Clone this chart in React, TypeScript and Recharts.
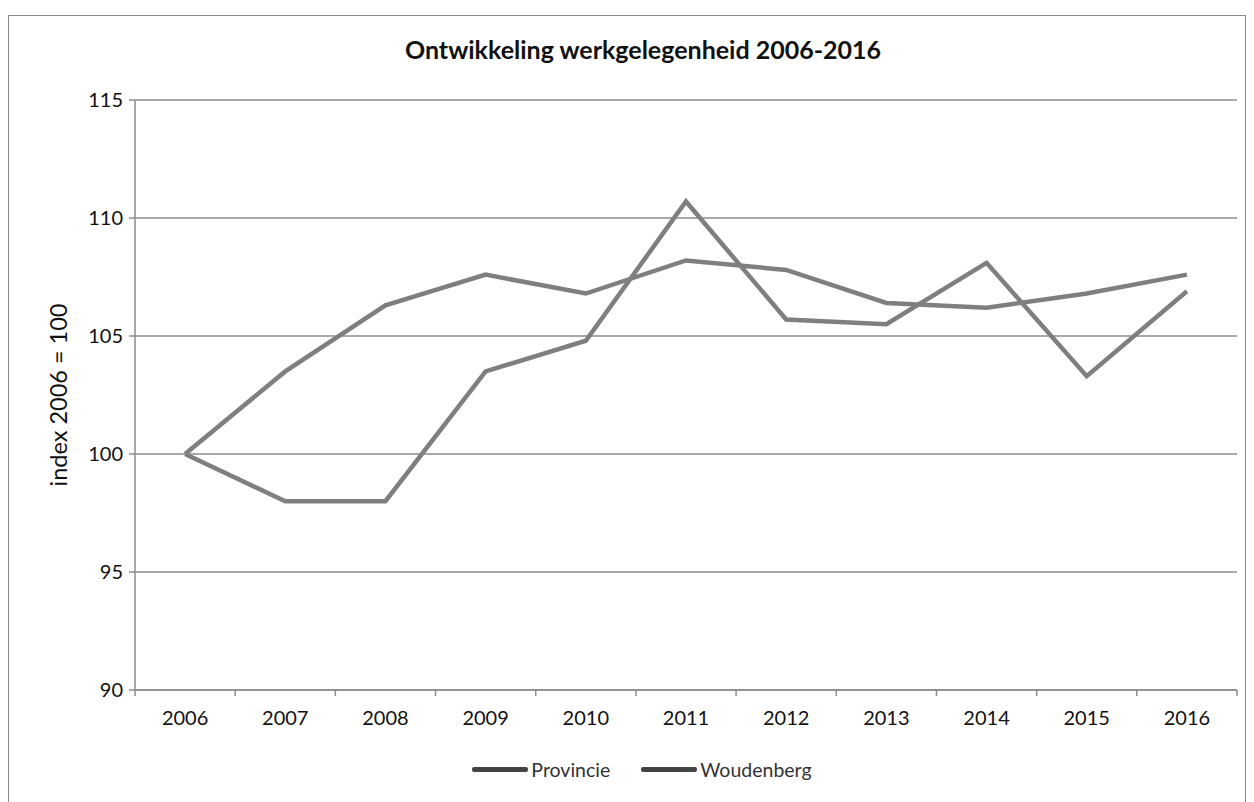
import React from "react";
import {
  LineChart,
  Line,
  XAxis,
  YAxis,
  CartesianGrid,
  Legend,
} from "recharts";

const years = ["2006", "2007", "2008", "2009", "2010", "2011", "2012", "2013", "2014", "2015", "2016"];
const provincie = [100, 103.5, 106.3, 107.6, 106.8, 108.2, 107.8, 106.4, 106.2, 106.8, 107.6];
const woudenberg = [100, 98.0, 98.0, 103.5, 104.8, 110.7, 105.7, 105.5, 108.1, 103.3, 106.9];
const yTicks = [90, 95, 100, 105, 110, 115];

const data = years.map((year, i) => ({
  year,
  provincie: provincie[i],
  woudenberg: woudenberg[i],
}));

const font = "Lato, 'Open Sans', sans-serif";
const lineColor = "#7f7f7f";
const gridColor = "#8c8c8c";
const X_TICK_SIZE = 6;
const X_TICK_MARGIN = 10;

const legendItems = [
  { name: "Provincie" },
  { name: "Woudenberg" },
];

function renderLegend() {
  return (
    <div style={{
      display: "flex",
      justifyContent: "center",
      gap: "31px",
      paddingTop: "22px",
      paddingRight: "28px",
      fontFamily: font,
      fontSize: "19.5px",
      color: "#333",
    }}>
      {legendItems.map((item) => (
        <div key={item.name} style={{ display: "flex", alignItems: "center" }}>
          <span style={{ display: "inline-block", width: "56px", height: "5px", background: "#444", borderRadius: "2px", marginRight: "3px" }} />
          {item.name}
        </div>
      ))}
    </div>
  );
}

// year label at the band centre, Excel-style tick marks on the band edges
function YearTick(props: any) {
  const { x, y, payload, index, visibleTicksCount } = props;
  const half = payload.offset || 0;
  const axisY = y - X_TICK_SIZE - X_TICK_MARGIN;
  const isLast = index === visibleTicksCount - 1;
  return (
    <g>
      <line x1={x - half} x2={x - half} y1={axisY} y2={axisY + X_TICK_SIZE} stroke={gridColor} strokeWidth={1.5} />
      {isLast && (
        <line x1={x + half} x2={x + half} y1={axisY} y2={axisY + X_TICK_SIZE} stroke={gridColor} strokeWidth={1.5} />
      )}
      <text x={x} y={y} dy={19} textAnchor="middle" fill="#111" fontSize={20} fontFamily={font}>
        {payload.value}
      </text>
    </g>
  );
}

function YLabel(props: any) {
  const { viewBox } = props;
  const x = viewBox.x - 17;
  const y = viewBox.y + viewBox.height / 2;
  return (
    <text
      x={x}
      y={y}
      transform={`rotate(-90, ${x}, ${y})`}
      textAnchor="middle"
      dominantBaseline="central"
      fontFamily={font}
      fontSize={23.5}
      fill="#111"
    >
      index 2006 = 100
    </text>
  );
}

export default function App() {
  return (
    <div style={{
      position: "relative",
      width: "1236px",
      height: "786px",
      marginTop: "7px",
      border: "1.5px solid #8a8a8a",
      borderBottom: "none",
      background: "#fff",
    }}>
      <div style={{
        position: "absolute",
        top: "18px",
        left: "16px",
        width: "100%",
        textAlign: "center",
        fontFamily: font,
        fontWeight: 700,
        fontSize: "25px",
        color: "#111",
      }}>
        Ontwikkeling werkgelegenheid 2006-2016
      </div>
      <LineChart
        width={1236}
        height={786}
        data={data}
        margin={{ top: 84, right: 8, bottom: 0, left: 66 }}
      >
        <CartesianGrid vertical={false} stroke={gridColor} strokeWidth={1.5} />
        <XAxis
          dataKey="year"
          scale="band"
          tickLine={false}
          tickSize={X_TICK_SIZE}
          tickMargin={X_TICK_MARGIN}
          axisLine={{ stroke: gridColor, strokeWidth: 1.5 }}
          tick={<YearTick />}
          height={46}
          interval={0}
        />
        <YAxis
          domain={[90, 115]}
          ticks={yTicks}
          width={60}
          tickLine={{ stroke: gridColor, strokeWidth: 1.5 }}
          tickSize={6}
          axisLine={{ stroke: gridColor, strokeWidth: 1.5 }}
          tick={{ fill: "#111", fontSize: 20, fontFamily: font }}
          tickMargin={6}
          label={<YLabel />}
        />
        <Legend verticalAlign="bottom" height={66} content={renderLegend} />
        <Line
          type="linear"
          dataKey="provincie"
          name="Provincie"
          stroke={lineColor}
          strokeWidth={4.5}
          dot={false}
          isAnimationActive={false}
        />
        <Line
          type="linear"
          dataKey="woudenberg"
          name="Woudenberg"
          stroke={lineColor}
          strokeWidth={4.5}
          dot={false}
          isAnimationActive={false}
        />
      </LineChart>
    </div>
  );
}
